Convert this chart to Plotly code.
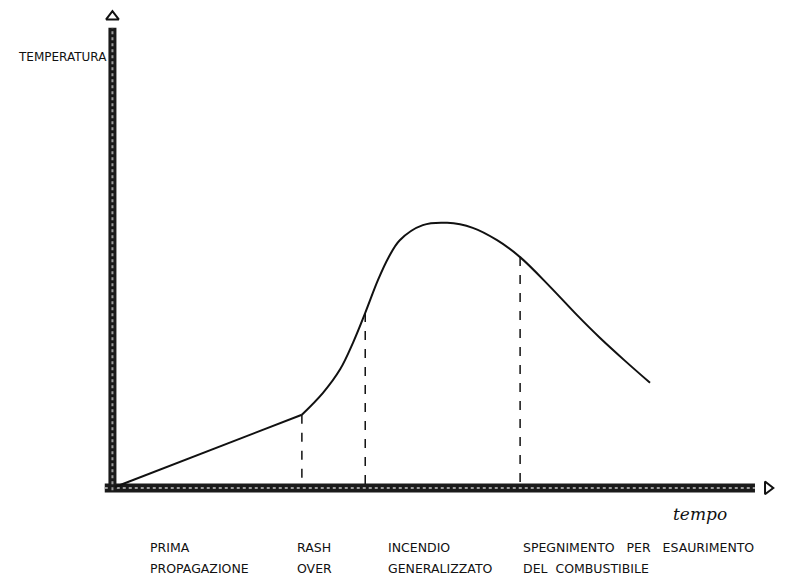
import numpy as np
import plotly.graph_objects as go

# ---- data (arbitrary units) ----
time = [0.0, 13.3, 29.2, 32.5, 35.2, 37.2, 39.1, 41.1, 42.7, 44.5, 48.1, 51.9,
        55.9, 59.7, 63.3, 68.0, 72.2, 75.8, 79.7, 83.6]
temperature = [0.0, 7.2, 15.8, 20.6, 25.8, 31.6, 38.1, 45.3, 50.1, 54.0, 57.3, 57.8,
               56.7, 54.0, 50.3, 43.8, 37.6, 32.6, 27.6, 22.8]
phase_bounds = [29.2, 39.1, 63.3]
phase_labels = ["PRIMA<br>PROPAGAZIONE", "RASH<br>OVER", "INCENDIO<br>GENERALIZZATO",
                "SPEGNIMENTO   PER   ESAURIMENTO<br>DEL  COMBUSTIBILE"]
x_title = "tempo"
y_title = "TEMPERATURA"

# ---- layout / style ----
label_x = [5.2, 28.1, 42.3, 63.4]
label_rows_y = [-13.3, -17.9]
ink = "#111111"
font_hand = "DejaVu Sans, sans-serif"

fig = go.Figure()

def deco(**kw):
    fig.add_trace(go.Scatter(hoverinfo="skip", showlegend=False, cliponaxis=False, **kw))

# axis bars (hand-drawn, thick hatched look)
deco(x=[-1.6, 100], y=[-0.2, -0.2], mode="lines", line=dict(color="#1a1a1a", width=9))
deco(x=[-1.6, 100], y=[-0.2, -0.2], mode="lines", line=dict(color="#9a9a9a", width=2, dash="dot"))
deco(x=[-0.4, -0.4], y=[-0.7, 100.5], mode="lines", line=dict(color="#1a1a1a", width=8))
deco(x=[-0.4, -0.4], y=[-0.7, 100.5], mode="lines", line=dict(color="#9a9a9a", width=2, dash="dot"))
# arrow heads
deco(x=[-0.4], y=[102.9], mode="markers",
     marker=dict(symbol="triangle-up-open", size=11, color=ink, line=dict(width=2)))
deco(x=[102.0], y=[-0.2], mode="markers",
     marker=dict(symbol="triangle-right-open", size=11, color=ink, line=dict(width=2)))

# dashed phase boundaries, from the curve down to the time axis
for b in phase_bounds:
    top = float(np.interp(b, time, temperature))
    deco(x=[b, b], y=[top, 0], mode="lines", line=dict(color=ink, width=1.5, dash="dash"))

# temperature curve: straight first propagation, smooth afterwards
k = time.index(phase_bounds[0])
fig.add_trace(go.Scatter(x=time[:k + 1], y=temperature[:k + 1], mode="lines",
                         line=dict(color=ink, width=2), showlegend=False))
fig.add_trace(go.Scatter(x=time[k:], y=temperature[k:], mode="lines",
                         line=dict(color=ink, width=2, shape="spline", smoothing=1.0),
                         showlegend=False))

annotations = [
    dict(x=-0.9, y=94.1, text=y_title, xanchor="right", yanchor="middle", showarrow=False,
         font=dict(family=font_hand, size=12, color=ink)),
    dict(x=91.4, y=-5.9, text=x_title, xanchor="center", yanchor="middle", showarrow=False,
         font=dict(family="DejaVu Serif, serif", size=17, color=ink, style="italic")),
]
for lx, lab in zip(label_x, phase_labels):
    for ry, line_text in zip(label_rows_y, lab.split("<br>")):
        annotations.append(dict(x=lx, y=ry, text=line_text, xanchor="left", yanchor="middle",
                                align="left", showarrow=False,
                                font=dict(family=font_hand, size=12.5, color=ink)))

# ranges compensate for the page's 8px body margin
fig.update_layout(
    width=804, height=587,
    margin=dict(l=0, r=0, t=0, b=0),
    paper_bgcolor="white", plot_bgcolor="white",
    xaxis=dict(range=[-16.72, 108.91], visible=False, fixedrange=True),
    yaxis=dict(range=[-23.63, 104.81], visible=False, fixedrange=True),
    annotations=annotations,
    showlegend=False,
)

fig.write_html("out.html")
